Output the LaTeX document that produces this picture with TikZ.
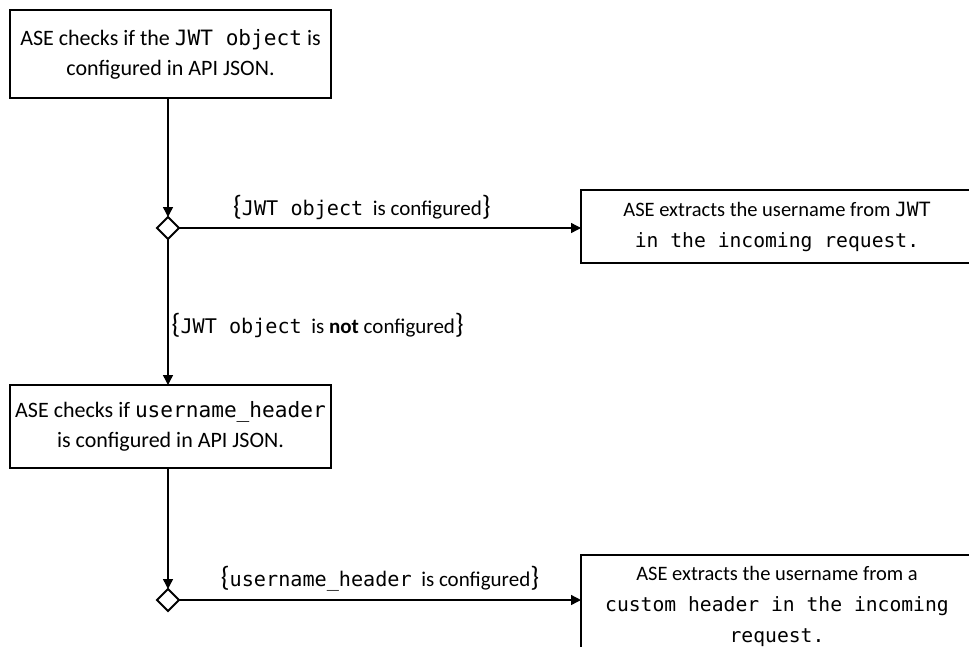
\documentclass[tikz,border=0pt]{standalone}
\usepackage{fontspec}
\setmainfont{Carlito}
\setmonofont{DejaVu Sans Mono}[Scale=0.96]
\usepackage{tikz}
\usetikzlibrary{shapes.geometric, arrows.meta, positioning}
\tikzset{
  check/.style={
    rectangle, draw=black, line width=2.2pt, fill=white,
    minimum width=321pt, inner xsep=1pt, outer sep=0pt,
    text centered, align=center,
    font=\fontsize{22}{30}\selectfont},
  result/.style={
    rectangle, draw=black, line width=2.2pt, fill=white,
    minimum width=392pt, outer sep=0pt,
    text centered, align=center,
    font=\fontsize{20.5}{31}\selectfont},
  choice/.style={
    diamond, draw=black, line width=2pt, fill=white,
    minimum width=22pt, minimum height=22pt, inner sep=0pt, outer sep=0pt},
  arr/.style={-{Triangle[length=10pt,width=10pt]}, line width=1.4pt},
  guard/.style={font=\fontsize{21}{24}\selectfont, inner sep=1pt},
}
\newcommand{\brc}[1]{{\fontsize{28}{28}\selectfont#1}}

\begin{document}
\begin{tikzpicture}[x=1pt, y=1pt]

  \clip (0,0) rectangle (969,-646);

  \node[check, minimum height=88pt] (chkjwt) at (170.5,-54)
    {ASE checks if the \texttt{JWT object} is\\configured in API JSON.};

  \node[choice, below=119pt of chkjwt.south, anchor=north, xshift=-2.5pt] (decjwt) {};

  \node[result, minimum height=73pt, right=402pt of decjwt.east, anchor=west, yshift=1.5pt] (fromjwt)
    {ASE extracts the username from \texttt{JWT}\\\texttt{in the incoming request.}};

  \node[check, minimum height=83pt, below=146pt of decjwt.south, anchor=north, xshift=2.5pt] (chkhdr)
    {ASE checks if \texttt{username\_header}\\is configured in API JSON.};

  \node[choice, below=121pt of chkhdr.south, anchor=north, xshift=-2.5pt] (dechdr) {};

  \node[result, minimum height=102pt, right=402pt of dechdr.east, anchor=west, yshift=-6pt] (fromhdr)
    {ASE extracts the username from a\\\texttt{custom header in the incoming}\\\texttt{request.}};

  \draw[arr] (chkjwt.south -| decjwt) -- (decjwt.north);
  \draw[arr] (decjwt.east) -- node[guard, above=7pt, pos=0.455]
    {\brc{\{}\texttt{JWT object}\ \ is configured\brc{\}}} (fromjwt.west |- decjwt);
  \draw[arr] (decjwt.south) -- node[guard, right=2pt, pos=0.59]
    {\brc{\{}\texttt{JWT object}\ \ is \textbf{not} configured\brc{\}}} (chkhdr.north -| decjwt);
  \draw[arr] (chkhdr.south -| dechdr) -- (dechdr.north);
  \draw[arr] (dechdr.east) -- node[guard, above=7pt, pos=0.5]
    {\brc{\{}\texttt{username\_header}\ \ is configured\brc{\}}} (fromhdr.west |- dechdr);

\end{tikzpicture}
\end{document}
